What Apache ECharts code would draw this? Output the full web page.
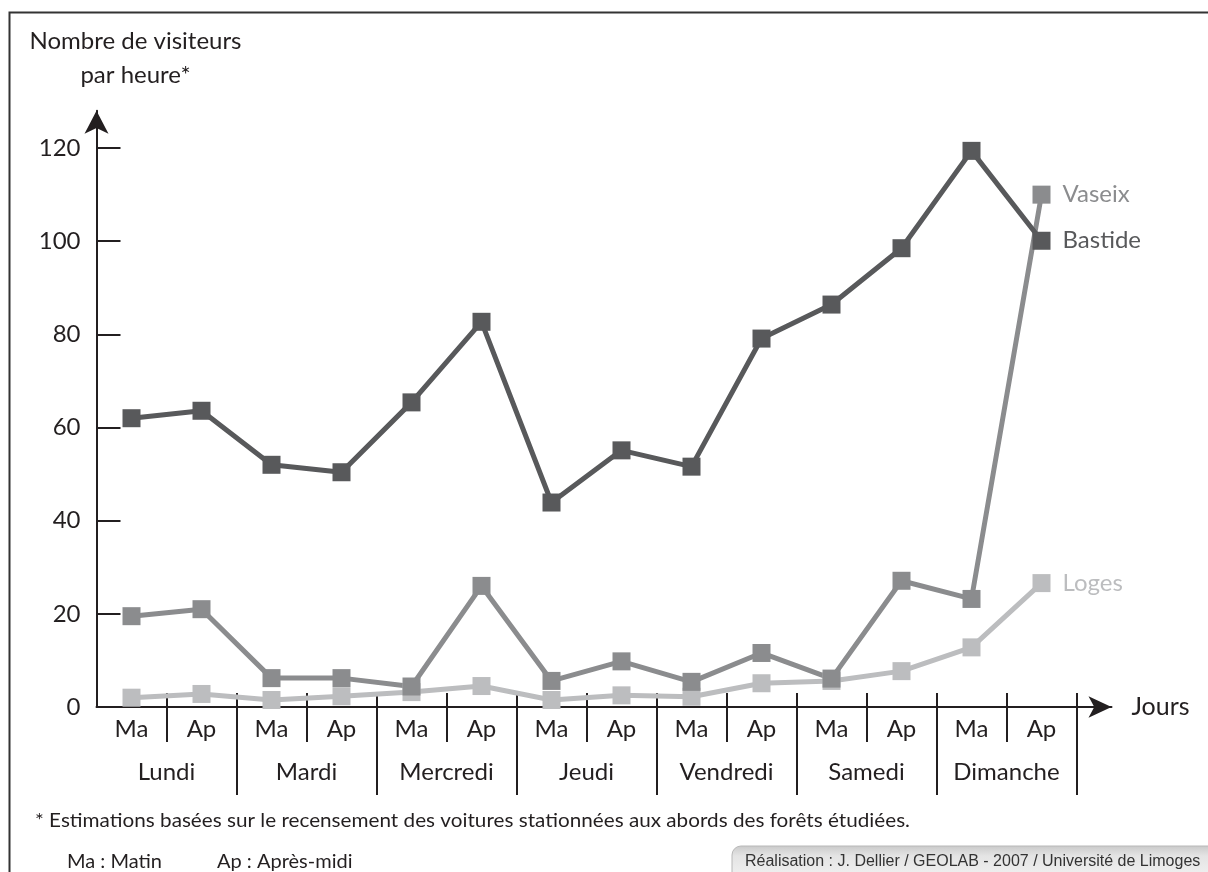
<!DOCTYPE html>
<html lang="fr">
<head>
<meta charset="utf-8">
<title>Nombre de visiteurs par heure</title>
<script src="https://cdn.jsdelivr.net/npm/echarts@6/dist/echarts.min.js"></script>
<style>
  html, body { margin: 0; padding: 0; background: #ffffff; }
  #chart { width: 1208px; height: 872px; }
</style>
</head>
<body>
<div id="chart"></div>
<script>
// Half-day periods (Ma = matin, Ap = après-midi), one pair per day
const periods = ['Ma', 'Ap', 'Ma', 'Ap', 'Ma', 'Ap', 'Ma', 'Ap', 'Ma', 'Ap', 'Ma', 'Ap', 'Ma', 'Ap'];
const days = ['Lundi', 'Mardi', 'Mercredi', 'Jeudi', 'Vendredi', 'Samedi', 'Dimanche'];
const yTicks = [0, 20, 40, 60, 80, 100, 120];

// Estimated visitors per hour, for each half-day
const bastide = [62, 63.6, 52, 50.4, 65.4, 82.7, 43.9, 55.1, 51.6, 79.1, 86.4, 98.5, 119.4, 100.1];
const vaseix = [19.5, 21, 6.2, 6.2, 4.4, 26, 5.6, 9.8, 5.4, 11.6, 6.1, 27.1, 23.2, 110];
const loges = [2.0, 2.8, 1.5, 2.3, 3.2, 4.5, 1.5, 2.5, 2.2, 5.1, 5.6, 7.7, 12.8, 26.6];

const INK = '#231f20';
const FONT = 'Lato';

const chart = echarts.init(document.getElementById('chart'), null, { renderer: 'canvas' });

// Positions along the half-day scale
const centres = periods.map((_, i) => i);
const halfDayTicks = days.map((_, d) => d * 2 + 0.5);
const dayTicks = days.map((_, d) => d * 2 + 1.5);
const dayCentres = days.map((_, d) => d * 2 + 0.5);
const allTicks = periods.map((_, i) => i + 0.5);

function lineSeries(name, values, color) {
  const last = values.length - 1;
  return {
    name: name,
    type: 'line',
    data: values.map((v, i) => [i, v]),
    symbol: 'rect',
    symbolSize: 18,
    lineStyle: { color: color, width: 5 },
    itemStyle: { color: color },
    label: {
      show: true,
      position: 'right',
      distance: 12,
      color: color,
      fontFamily: FONT,
      fontSize: 24,
      formatter: p => (p.dataIndex === last ? name : '')
    },
    emphasis: { disabled: true }
  };
}

// Fit a text to a given width by measuring it on a canvas
function fitScale(text, font, width) {
  const ctx = document.createElement('canvas').getContext('2d');
  ctx.font = font;
  const w = ctx.measureText(text).width;
  return w > 0 ? width / w : 1;
}

const footnote = '* Estimations basées sur le recensement des voitures stationnées aux abords des forêts étudiées.';
const footScale = fitScale(footnote, '20px Lato', 875);

const option = {
  animation: false,
  backgroundColor: '#ffffff',
  grid: { left: 96.5, right: 96.5, top: 110.8, bottom: 165, containLabel: false },
  xAxis: [
    {
      // main horizontal axis with arrow and half-day labels
      type: 'value',
      position: 'bottom',
      min: -0.5,
      max: 14,
      name: 'Jours',
      nameLocation: 'end',
      nameGap: 20,
      nameTextStyle: { color: INK, fontFamily: FONT, fontSize: 25, verticalAlign: 'middle' },
      axisLine: {
        show: true,
        onZero: false,
        symbol: ['none', 'arrow'],
        symbolSize: [16, 23],
        lineStyle: { color: INK, width: 2 }
      },
      axisTick: {
        show: true,
        inside: false,
        length: 35,
        customValues: halfDayTicks,
        lineStyle: { color: INK, width: 2 }
      },
      axisLabel: {
        show: true,
        customValues: centres,
        margin: 10,
        color: INK,
        fontFamily: FONT,
        fontSize: 24,
        formatter: v => periods[Math.round(v)] || ''
      },
      splitLine: { show: false }
    },
    {
      // day separators and day names
      type: 'value',
      position: 'bottom',
      offset: 0,
      min: -0.5,
      max: 14,
      axisLine: { show: false, onZero: false },
      axisTick: {
        show: true,
        inside: false,
        length: 88,
        customValues: dayTicks,
        lineStyle: { color: INK, width: 2 }
      },
      axisLabel: {
        show: true,
        customValues: dayCentres,
        margin: 53,
        color: INK,
        fontFamily: FONT,
        fontSize: 24,
        formatter: v => days[Math.round((v - 0.5) / 2)] || ''
      },
      splitLine: { show: false }
    },
    {
      // short marks above the axis at every half-day boundary
      type: 'value',
      position: 'bottom',
      offset: 0,
      min: -0.5,
      max: 14,
      axisLine: { show: false, onZero: false },
      axisTick: {
        show: true,
        inside: true,
        length: 14,
        customValues: allTicks,
        lineStyle: { color: INK, width: 2 }
      },
      axisLabel: { show: false },
      splitLine: { show: false }
    }
  ],
  yAxis: {
    type: 'value',
    min: 0,
    max: 128,
    axisLine: {
      show: true,
      onZero: false,
      symbol: ['none', 'arrow'],
      symbolSize: [18, 23],
      lineStyle: { color: INK, width: 2 }
    },
    axisTick: {
      show: true,
      inside: true,
      length: 24,
      customValues: yTicks,
      lineStyle: { color: INK, width: 2 }
    },
    axisLabel: {
      show: true,
      customValues: yTicks,
      margin: 16,
      color: INK,
      fontFamily: FONT,
      fontSize: 24
    },
    splitLine: { show: false }
  },
  series: [
    lineSeries('Loges', loges, '#bcbdbf'),
    lineSeries('Vaseix', vaseix, '#8b8c8e'),
    lineSeries('Bastide', bastide, '#58595b')
  ],
  graphic: [
    // outer frame
    {
      type: 'rect',
      silent: true,
      shape: { x: 9.5, y: 12.5, width: 1400, height: 1000 },
      style: { fill: 'none', stroke: '#333333', lineWidth: 2 }
    },
    {
      type: 'text',
      silent: true,
      x: 135.5,
      y: 41,
      style: {
        text: 'Nombre de visiteurs',
        fill: INK,
        font: '24px Lato',
        align: 'center',
        verticalAlign: 'middle'
      }
    },
    {
      type: 'text',
      silent: true,
      x: 135.5,
      y: 75,
      style: {
        text: 'par heure*',
        fill: INK,
        font: '24px Lato',
        align: 'center',
        verticalAlign: 'middle'
      }
    },
    {
      type: 'text',
      silent: true,
      x: 35,
      y: 821,
      scaleX: footScale,
      style: {
        text: footnote,
        fill: INK,
        font: '20px Lato',
        align: 'left',
        verticalAlign: 'middle'
      }
    },
    {
      type: 'text',
      silent: true,
      x: 67,
      y: 862,
      style: { text: 'Ma : Matin', fill: INK, font: '20px Lato', align: 'left', verticalAlign: 'middle' }
    },
    {
      type: 'text',
      silent: true,
      x: 217,
      y: 862,
      style: { text: 'Ap : Après-midi', fill: INK, font: '20px Lato', align: 'left', verticalAlign: 'middle' }
    },
    // credit box in the lower right corner
    {
      type: 'rect',
      silent: true,
      shape: { x: 732, y: 846, width: 520, height: 40, r: [9, 0, 0, 0] },
      style: {
        stroke: '#b8b8b8',
        lineWidth: 1,
        fill: new echarts.graphic.LinearGradient(0, 0, 0, 1, [
          { offset: 0, color: '#c9c9c9' },
          { offset: 0.25, color: '#e4e4e4' },
          { offset: 1, color: '#f6f6f6' }
        ])
      }
    },
    {
      type: 'text',
      silent: true,
      x: 745,
      y: 862,
      style: {
        text: 'Réalisation : J. Dellier / GEOLAB - 2007 / Université de Limoges',
        fill: '#333333',
        font: '16px "Liberation Sans"',
        align: 'left',
        verticalAlign: 'middle'
      }
    }
  ]
};

chart.setOption(option);
</script>
</body>
</html>
